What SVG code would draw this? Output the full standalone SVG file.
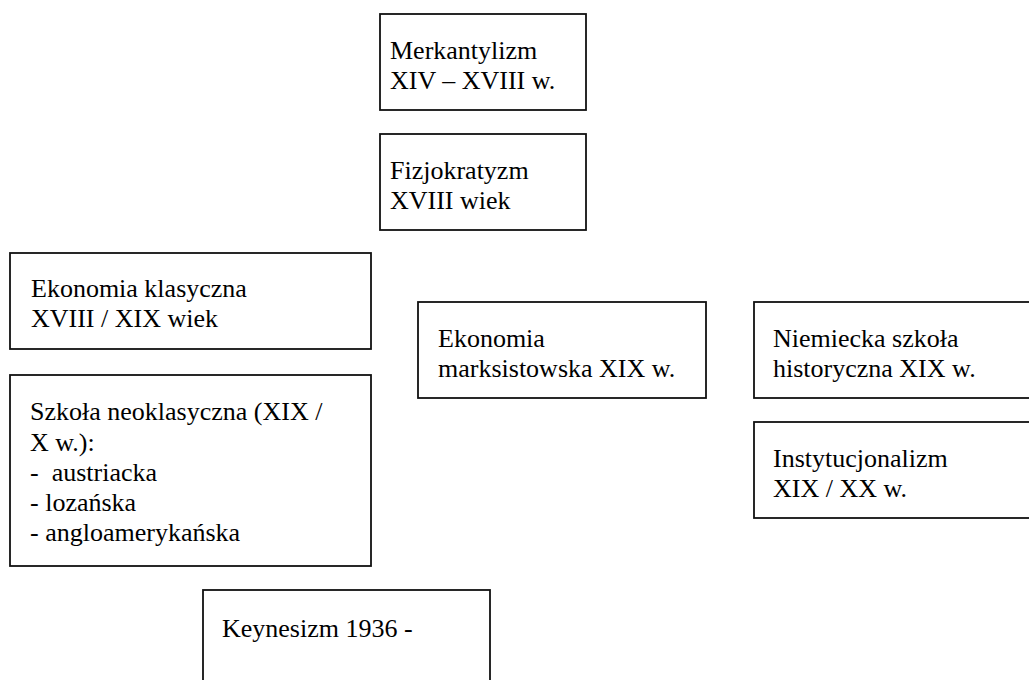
<svg xmlns="http://www.w3.org/2000/svg" width="1029" height="680" viewBox="0 0 1029 680">
<style>
rect.box{fill:#fff;stroke:#111;stroke-width:1.8}
text{font-family:"Liberation Serif","Times New Roman",serif;font-size:26px;fill:#000}
</style>
<rect width="1029" height="680" fill="#fff"/>
<g id="connectors"/>
<g id="merkantylizm">
<rect class="box" x="380" y="14" width="206" height="96"/>
<text x="390" y="59">Merkantylizm</text>
<text x="390" y="89">XIV – XVIII w.</text>
</g>
<g id="fizjokratyzm">
<rect class="box" x="380" y="134" width="206" height="96"/>
<text x="390" y="179">Fizjokratyzm</text>
<text x="390" y="209">XVIII wiek</text>
</g>
<g id="ekonomia-klasyczna">
<rect class="box" x="10" y="253" width="361" height="96"/>
<text x="31" y="297">Ekonomia klasyczna</text>
<text x="31" y="327">XVIII / XIX wiek</text>
</g>
<g id="szkola-neoklasyczna">
<rect class="box" x="10" y="375" width="361" height="191"/>
<text x="30" y="420">Szkoła neoklasyczna (XIX /</text>
<text x="30" y="451">X w.):</text>
<text x="30" y="481" xml:space="preserve">-  austriacka</text>
<text x="30" y="511">- lozańska</text>
<text x="30" y="541">- angloamerykańska</text>
</g>
<g id="ekonomia-marksistowska">
<rect class="box" x="418" y="302" width="288" height="96"/>
<text x="438" y="347">Ekonomia</text>
<text x="438" y="377">marksistowska XIX w.</text>
</g>
<g id="niemiecka-szkola">
<rect class="box" x="754" y="302" width="290" height="96"/>
<text x="773" y="347">Niemiecka szkoła</text>
<text x="773" y="377">historyczna XIX w.</text>
</g>
<g id="instytucjonalizm">
<rect class="box" x="754" y="422" width="290" height="96"/>
<text x="773" y="467">Instytucjonalizm</text>
<text x="773" y="497">XIX / XX w.</text>
</g>
<g id="keynesizm">
<rect class="box" x="203" y="590" width="287" height="100"/>
<text x="222" y="637">Keynesizm 1936 -</text>
</g>
</svg>
